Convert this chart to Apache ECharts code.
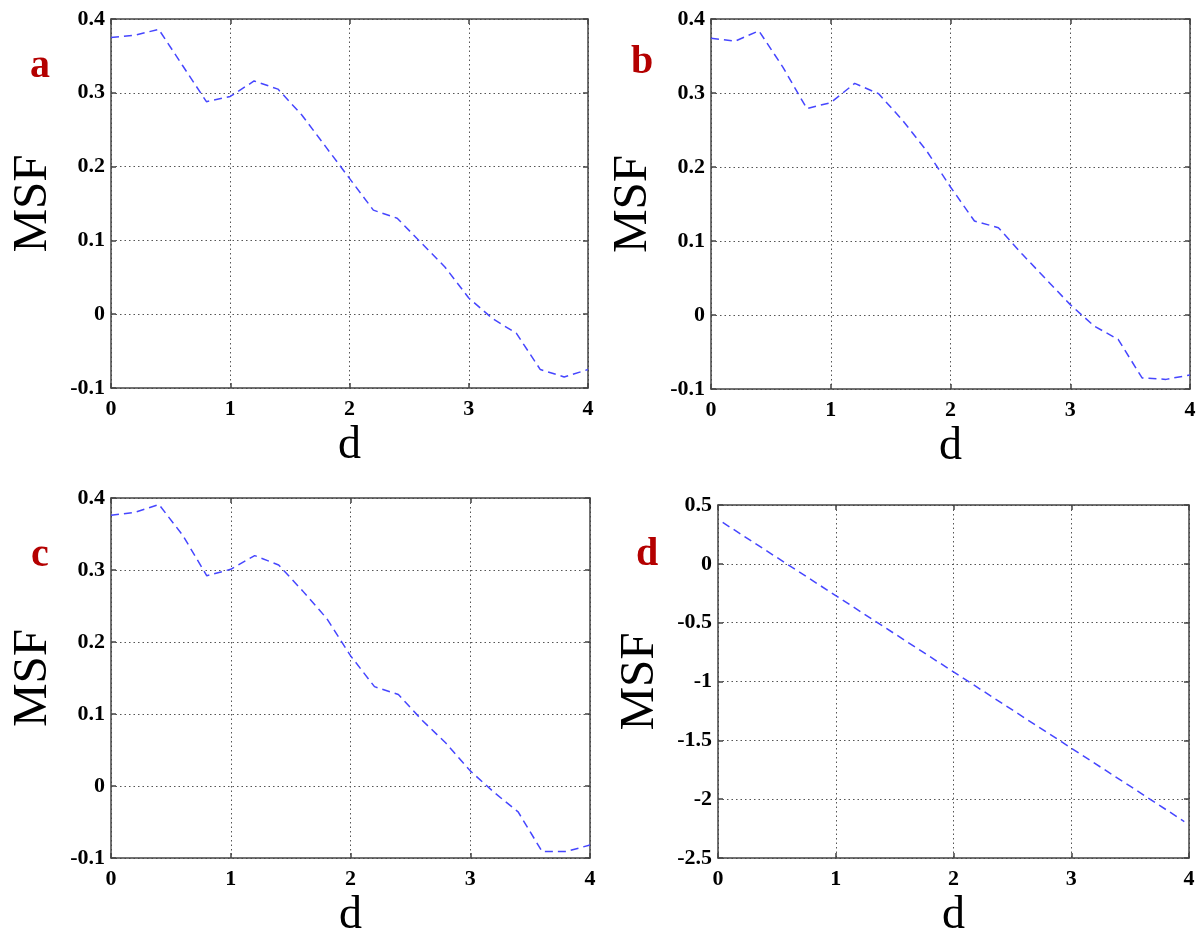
<!DOCTYPE html>
<html><head><meta charset="utf-8">
<script src="https://cdn.jsdelivr.net/npm/echarts@6/dist/echarts.min.js"></script>
<style>html,body{margin:0;padding:0;background:#fff}#c{width:1202px;height:940px}</style>
</head><body><div id="c"></div>
<script>
// x values (d) for panels a, b, c
const dSteps = [0, 0.2, 0.4, 0.6, 0.8, 1.0, 1.2, 1.4, 1.6, 1.8, 2.0, 2.2, 2.4, 2.6, 2.8, 3.0, 3.2, 3.4, 3.6, 3.8, 4.0];
const msfA = [0.375, 0.378, 0.386, 0.337, 0.288, 0.295, 0.316, 0.305, 0.270, 0.227, 0.184, 0.141, 0.130, 0.097, 0.064, 0.022, -0.006, -0.026, -0.075, -0.085, -0.075];
const msfB = [0.374, 0.370, 0.384, 0.335, 0.279, 0.287, 0.313, 0.299, 0.263, 0.222, 0.173, 0.127, 0.118, 0.082, 0.048, 0.014, -0.015, -0.033, -0.085, -0.087, -0.081];
const msfC = [0.376, 0.380, 0.391, 0.348, 0.292, 0.301, 0.320, 0.307, 0.271, 0.233, 0.181, 0.138, 0.127, 0.091, 0.059, 0.021, -0.009, -0.036, -0.091, -0.091, -0.082];
// panel d
const dStepsD = [0.04, 0.5, 1.0, 1.5, 2.0, 2.5, 3.0, 3.5, 3.96];
const msfD = [0.352, 0.054, -0.270, -0.594, -0.918, -1.242, -1.566, -1.890, -2.190];
// tick settings / labels
const xTicks = [0, 1, 2, 3, 4];
const panelLetters = ['a', 'b', 'c', 'd'];
const xName = 'd';
const yName = 'MSF';

const serif = "'Liberation Serif', 'DejaVu Serif', serif";
const panels = [
  { rect: {left: 111, top: 19, width: 477, height: 369}, ymin: -0.1, ymax: 0.4, yint: 0.1, xs: dSteps, ys: msfA, letter: [40, 67] },
  { rect: {left: 711, top: 19, width: 479, height: 370}, ymin: -0.1, ymax: 0.4, yint: 0.1, xs: dSteps, ys: msfB, letter: [642, 63] },
  { rect: {left: 111, top: 498, width: 479, height: 372}, ymin: -0.1, ymax: 0.4, yint: 0.1, xs: dSteps, ys: msfC, letter: [40, 556] },
  { rect: {left: 718, top: 505, width: 471, height: 366}, ymin: -2.5, ymax: 0.5, yint: 0.5, xs: dStepsD, ys: msfD, letter: [647, 555] }
];

const grid = [], xAxis = [], yAxis = [], series = [], graphic = [];
const frame = '#444';
const gridLine = { show: true, lineStyle: { color: '#555', width: 1, type: [1.5, 3] } };
const fmt = v => String(Math.round(v * 10) / 10);

panels.forEach((p, i) => {
  grid.push(Object.assign({ show: false }, p.rect));
  const xmin = xTicks[0], xmax = xTicks[xTicks.length - 1];
  xAxis.push({
    type: 'value', gridIndex: i, min: xmin, max: xmax, interval: 1, position: 'bottom',
    axisLine: { show: true, onZero: false, lineStyle: { color: frame, width: 1.5 } },
    axisTick: { show: true, inside: true, length: 5, lineStyle: { color: frame, width: 1.5 } },
    axisLabel: { fontFamily: serif, fontWeight: 'bold', fontSize: 22, color: '#000', margin: 10, formatter: fmt },
    splitLine: gridLine,
    name: xName, nameLocation: 'middle', nameGap: 35,
    nameTextStyle: { fontFamily: serif, fontSize: 46, color: '#000' }
  });
  xAxis.push({
    type: 'value', gridIndex: i, min: xmin, max: xmax, interval: 1, position: 'top',
    axisLine: { show: true, onZero: false, lineStyle: { color: frame, width: 1.5 } },
    axisTick: { show: true, inside: true, length: 5, lineStyle: { color: frame, width: 1.5 } },
    axisLabel: { show: false }, splitLine: { show: false }
  });
  yAxis.push({
    type: 'value', gridIndex: i, min: p.ymin, max: p.ymax, interval: p.yint, position: 'left',
    axisLine: { show: true, onZero: false, lineStyle: { color: frame, width: 1.5 } },
    axisTick: { show: true, inside: true, length: 5, lineStyle: { color: frame, width: 1.5 } },
    axisLabel: { fontFamily: serif, fontWeight: 'bold', fontSize: 22, color: '#000', margin: 6, formatter: fmt },
    splitLine: gridLine,
    name: yName, nameLocation: 'middle', nameGap: 53,
    nameTextStyle: { fontFamily: serif, fontSize: 49, color: '#000' }
  });
  yAxis.push({
    type: 'value', gridIndex: i, min: p.ymin, max: p.ymax, interval: p.yint, position: 'right',
    axisLine: { show: true, onZero: false, lineStyle: { color: frame, width: 1.5 } },
    axisTick: { show: true, inside: true, length: 5, lineStyle: { color: frame, width: 1.5 } },
    axisLabel: { show: false }, splitLine: { show: false }
  });
  series.push({
    type: 'line', xAxisIndex: 2 * i, yAxisIndex: 2 * i,
    data: p.xs.map((x, k) => [x, p.ys[k]]),
    showSymbol: false, symbol: 'none', smooth: false, animation: false,
    lineStyle: { color: '#4646ff', width: 1.5, type: [8, 5] }
  });
  graphic.push({
    type: 'text', x: p.letter[0], y: p.letter[1],
    style: { text: panelLetters[i], fontFamily: serif, fontWeight: 'bold', fontSize: 40, fill: '#b40000', align: 'center', verticalAlign: 'middle' }
  });
});

const chart = echarts.init(document.getElementById('c'), null, { renderer: 'canvas' });
chart.setOption({ animation: false, backgroundColor: '#fff', grid, xAxis, yAxis, series, graphic });
</script>
</body></html>
